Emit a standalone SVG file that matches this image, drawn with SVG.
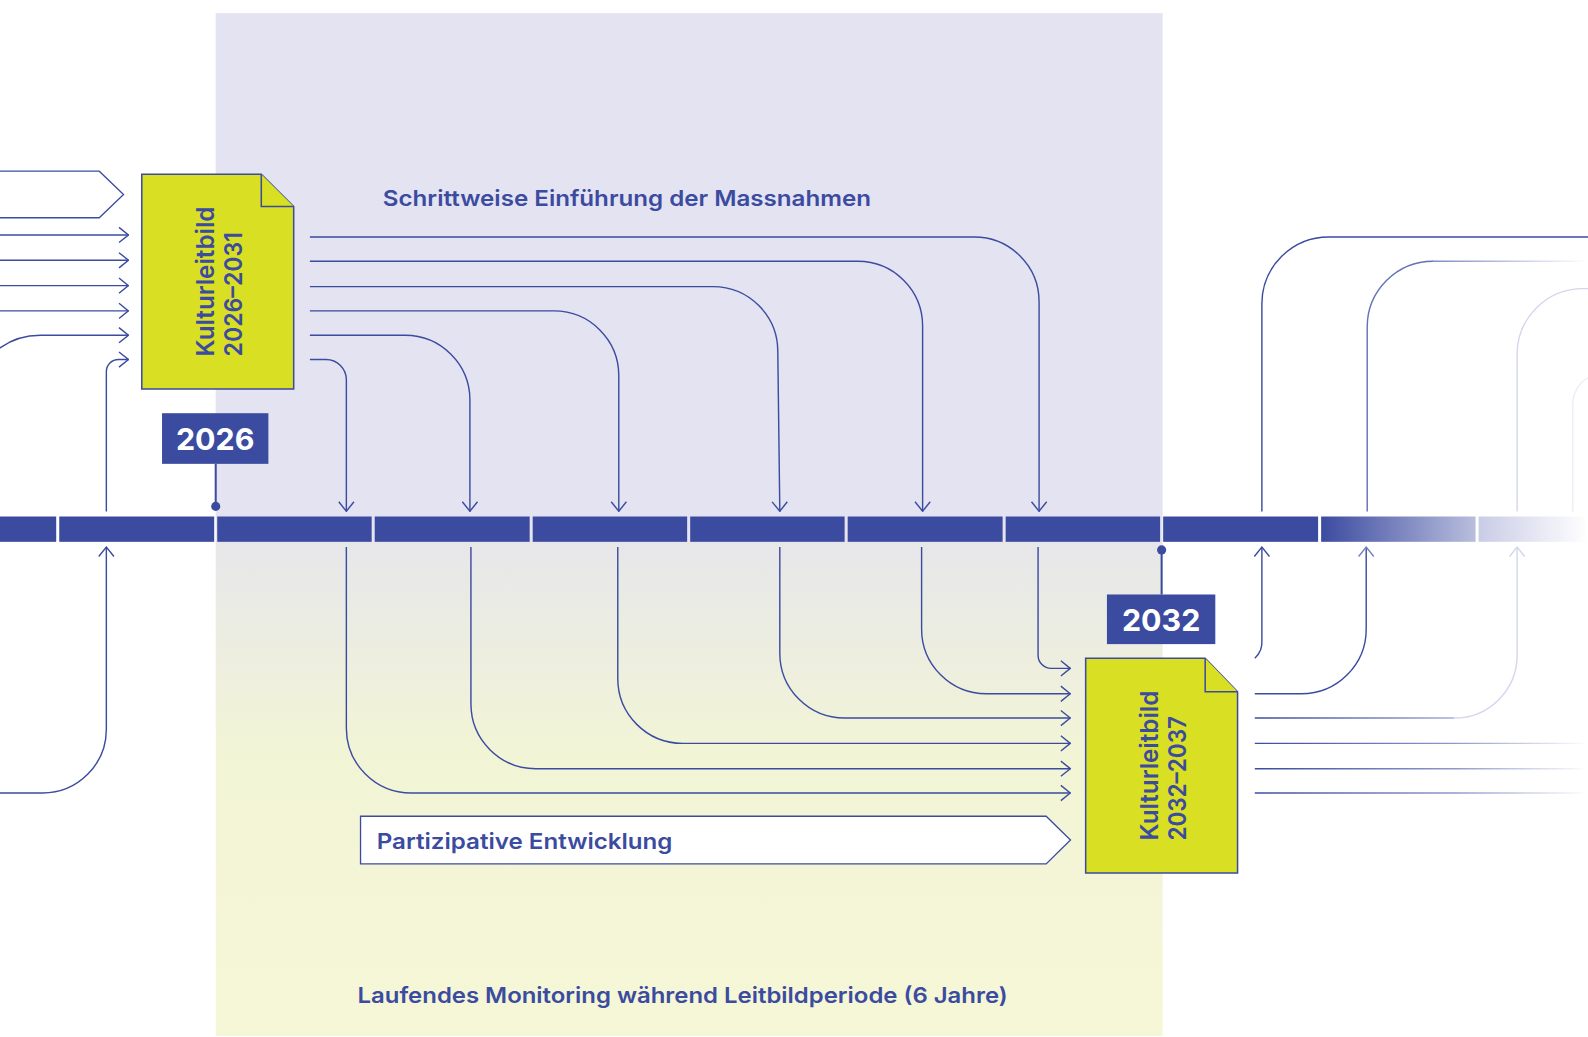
<svg xmlns="http://www.w3.org/2000/svg" width="1588" height="1037" viewBox="0 0 1588 1037">
<defs>
<style>
.ln{fill:none;stroke:#3b4ba0;stroke-width:1.4}
.lnm{fill:none;stroke:#6371b6;stroke-width:1.4}
.lnl{fill:none;stroke:#d3d6ec;stroke-width:1.4}
.lnx{fill:none;stroke:#eceef7;stroke-width:1.4}
.seg{fill:#3b4ba0}
.doc{fill:#d9df22;stroke:#3b4ba0;stroke-width:1.5}
.lbl{font-family:Inter,"Noto Sans",sans-serif;font-weight:600;fill:#3b4ba0}
.yr{font-family:Inter,"Noto Sans",sans-serif;font-weight:700;fill:#ffffff;font-size:30px}
.box{fill:#3b4ba0}
.pent{fill:#ffffff;stroke:#3b4ba0;stroke-width:1.3}
</style>
<linearGradient id="panel" x1="0" y1="13" x2="0" y2="1023" gradientUnits="userSpaceOnUse">
<stop offset="0" stop-color="#e3e3f1"/>
<stop offset="0.49" stop-color="#e3e3f1"/>
<stop offset="0.52" stop-color="#e7e7ea"/>
<stop offset="0.72" stop-color="#f2f4d6"/>
<stop offset="1" stop-color="#f5f7d7"/>
</linearGradient>
<linearGradient id="segfade1" x1="1304" y1="0" x2="1457" y2="0" gradientUnits="userSpaceOnUse">
<stop offset="0" stop-color="#3b4ba0"/>
<stop offset="1" stop-color="#b9bedd"/>
</linearGradient>
<linearGradient id="segfade2" x1="1460" y1="0" x2="1568" y2="0" gradientUnits="userSpaceOnUse">
<stop offset="0" stop-color="#c9cce6"/>
<stop offset="1" stop-color="#ffffff"/>
</linearGradient>
<linearGradient id="fadeR" x1="1239" y1="0" x2="1568" y2="0" gradientUnits="userSpaceOnUse">
<stop offset="0" stop-color="#3b4ba0"/>
<stop offset="0.6" stop-color="#8f99cb"/>
<stop offset="1" stop-color="#ffffff"/>
</linearGradient>
<linearGradient id="fadeT" x1="1400" y1="0" x2="1568" y2="0" gradientUnits="userSpaceOnUse">
<stop offset="0" stop-color="#7380bf"/>
<stop offset="1" stop-color="#ffffff"/>
</linearGradient>
<linearGradient id="fade709" x1="1239" y1="0" x2="1500" y2="0" gradientUnits="userSpaceOnUse">
<stop offset="0" stop-color="#3b4ba0"/>
<stop offset="0.5" stop-color="#7a86c2"/>
<stop offset="1" stop-color="#d3d6ec"/>
</linearGradient>
<marker id="ah" viewBox="0 0 11 17" refX="10.5" refY="8.5" markerWidth="11" markerHeight="17" markerUnits="userSpaceOnUse" orient="auto">
<path d="M1,1 L10.3,8.5 L1,16" fill="none" stroke="#3b4ba0" stroke-width="1.4"/>
</marker>
<marker id="ahm" viewBox="0 0 11 17" refX="10.5" refY="8.5" markerWidth="11" markerHeight="17" markerUnits="userSpaceOnUse" orient="auto">
<path d="M1,1 L10.3,8.5 L1,16" fill="none" stroke="#7380bf" stroke-width="1.4"/>
</marker>
<marker id="ahl" viewBox="0 0 11 17" refX="10.5" refY="8.5" markerWidth="11" markerHeight="17" markerUnits="userSpaceOnUse" orient="auto">
<path d="M1,1 L10.3,8.5 L1,16" fill="none" stroke="#d3d6ec" stroke-width="1.4"/>
</marker>
</defs>
<rect x="0" y="0" width="1588" height="1037" fill="#ffffff"/>
<g transform="scale(1.01275)">
<g id="panel-bg">
<rect x="213" y="13" width="935" height="1010" fill="url(#panel)"/>
</g>
<g id="texts">
<text class="lbl" x="378" y="203" font-size="21.5" textLength="482" lengthAdjust="spacingAndGlyphs">Schrittweise Einführung der Massnahmen</text>
<text class="lbl" x="353" y="990" font-size="21.5" textLength="642" lengthAdjust="spacingAndGlyphs">Laufendes Monitoring während Leitbildperiode (6 Jahre)</text>
</g>
<g id="timeline">
<rect class="seg" x="-2" y="510" width="57.5" height="25"/>
<rect class="seg" x="58.5" y="510" width="153" height="25"/>
<rect class="seg" x="214.5" y="510" width="152.5" height="25"/>
<rect class="seg" x="370" y="510" width="153" height="25"/>
<rect class="seg" x="526" y="510" width="152.5" height="25"/>
<rect class="seg" x="681.5" y="510" width="152.5" height="25"/>
<rect class="seg" x="837" y="510" width="153" height="25"/>
<rect class="seg" x="993" y="510" width="152.5" height="25"/>
<rect class="seg" x="1148.5" y="510" width="153" height="25"/>
<rect x="1304.5" y="510" width="152.5" height="25" fill="url(#segfade1)"/>
<rect x="1460" y="510" width="110" height="25" fill="url(#segfade2)"/>
</g>
<g id="connectors">
<path class="ln" d="M0,232 H127" marker-end="url(#ah)"/>
<path class="ln" d="M0,257 H127" marker-end="url(#ah)"/>
<path class="ln" d="M0,282 H127" marker-end="url(#ah)"/>
<path class="ln" d="M0,307 H127" marker-end="url(#ah)"/>
<path class="ln" d="M-30,400 A70,70 0 0 1 40,331 H127" marker-end="url(#ah)"/>
<path class="ln" d="M105,505 V367 A12,12 0 0 1 117,355 H127" marker-end="url(#ah)"/>
<path class="ln" d="M-2,783 H42 A63,63 0 0 0 105,720 V540" marker-end="url(#ah)"/>
<path class="ln" d="M306,234 H962 A64,64 0 0 1 1026,298 V505" marker-end="url(#ah)"/>
<path class="ln" d="M306,258 H847 A64,64 0 0 1 911,322 V505" marker-end="url(#ah)"/>
<path class="ln" d="M306,283 H704 A64,64 0 0 1 768,347 L770,505" marker-end="url(#ah)"/>
<path class="ln" d="M306,307 H547 A64,64 0 0 1 611,371 V505" marker-end="url(#ah)"/>
<path class="ln" d="M306,331 H400 A64,64 0 0 1 464,395 V505" marker-end="url(#ah)"/>
<path class="ln" d="M306,355 H322 A20,20 0 0 1 342,375 V505" marker-end="url(#ah)"/>
<path class="ln" d="M1025,540 V647 A13,13 0 0 0 1038,660 H1057" marker-end="url(#ah)"/>
<path class="ln" d="M910,540 V621 A64,64 0 0 0 974,685 H1057" marker-end="url(#ah)"/>
<path class="ln" d="M770,540 V645 A64,64 0 0 0 834,709 H1057" marker-end="url(#ah)"/>
<path class="ln" d="M610,540 V670 A64,64 0 0 0 674,734 H1057" marker-end="url(#ah)"/>
<path class="ln" d="M465,540 V695 A64,64 0 0 0 529,759 H1057" marker-end="url(#ah)"/>
<path class="ln" d="M342,540 V719 A64,64 0 0 0 406,783 H1057" marker-end="url(#ah)"/>
<path class="ln" d="M1239,650 A22,22 0 0 0 1246,632 V540" marker-end="url(#ah)"/>
<path class="ln" d="M1239,685 H1285 A64,64 0 0 0 1349,621 V540" marker-end="url(#ahm)"/>
<path fill="none" stroke="url(#fade709)" stroke-width="1.4" d="M1239,709 H1436"/>
<path class="lnl" d="M1436,709 A62,62 0 0 0 1498,647 V540" marker-end="url(#ahl)"/>
<path fill="none" stroke="url(#fadeR)" stroke-width="1.4" d="M1239,734 H1568"/>
<path fill="none" stroke="url(#fadeR)" stroke-width="1.4" d="M1239,759 H1568"/>
<path fill="none" stroke="url(#fadeR)" stroke-width="1.4" d="M1239,783 H1568"/>
<path class="ln" d="M1246,505 V300 A66,66 0 0 1 1312,234 H1570" stroke="#4856a6"/>
<path class="lnm" d="M1350,505 V323 A65,65 0 0 1 1415,258"/>
<path fill="none" stroke="url(#fadeT)" stroke-width="1.4" d="M1414,258 H1570"/>
<path class="lnl" d="M1498,505 V350 A65,65 0 0 1 1563,285 H1570"/>
<path class="lnx" d="M1553,505 V400 A30,30 0 0 1 1570,372"/>
</g>
<g id="pentagon-top">
<path class="pent" d="M-2,169 H98 L122,192 L98,215 H-2 Z"/>
</g>
<g id="doc1">
<path class="doc" d="M140,172 H258 L290,204 V384 H140 Z"/>
<path class="doc" d="M258,172 V204 H290"/>
<text class="lbl" font-size="24.5" textLength="148" lengthAdjust="spacingAndGlyphs" transform="translate(211,352) rotate(-90)">Kulturleitbild</text>
<text class="lbl" font-size="24.5" textLength="123" lengthAdjust="spacingAndGlyphs" transform="translate(239,352) rotate(-90)">2026–2031</text>
</g>
<g id="doc2">
<path class="doc" d="M1072,650 H1190 L1222,683 V862 H1072 Z"/>
<path class="doc" d="M1190,650 V683 H1222"/>
<text class="lbl" font-size="24.5" textLength="148" lengthAdjust="spacingAndGlyphs" transform="translate(1143,830) rotate(-90)">Kulturleitbild</text>
<text class="lbl" font-size="24.5" textLength="123" lengthAdjust="spacingAndGlyphs" transform="translate(1171,830) rotate(-90)">2032–2037</text>
</g>
<g id="year2026">
<line x1="213" y1="458" x2="213" y2="500" stroke="#3b4ba0" stroke-width="2"/>
<circle cx="213" cy="500" r="4.5" fill="#3b4ba0"/>
<rect class="box" x="160" y="408" width="105" height="50"/>
<text class="yr" x="212.5" y="444" text-anchor="middle">2026</text>
</g>
<g id="year2032">
<line x1="1147" y1="543" x2="1147" y2="587" stroke="#3b4ba0" stroke-width="2"/>
<circle cx="1147" cy="543" r="4.5" fill="#3b4ba0"/>
<rect class="box" x="1093" y="587" width="107" height="49"/>
<text class="yr" x="1146.5" y="623" text-anchor="middle">2032</text>
</g>
<g id="partizipative">
<path class="pent" d="M356,806 H1033 L1057,829.5 L1033,853 H356 Z"/>
<text class="lbl" x="372" y="838" font-size="21.5" textLength="292" lengthAdjust="spacingAndGlyphs">Partizipative Entwicklung</text>
</g>
</g>
</svg>
